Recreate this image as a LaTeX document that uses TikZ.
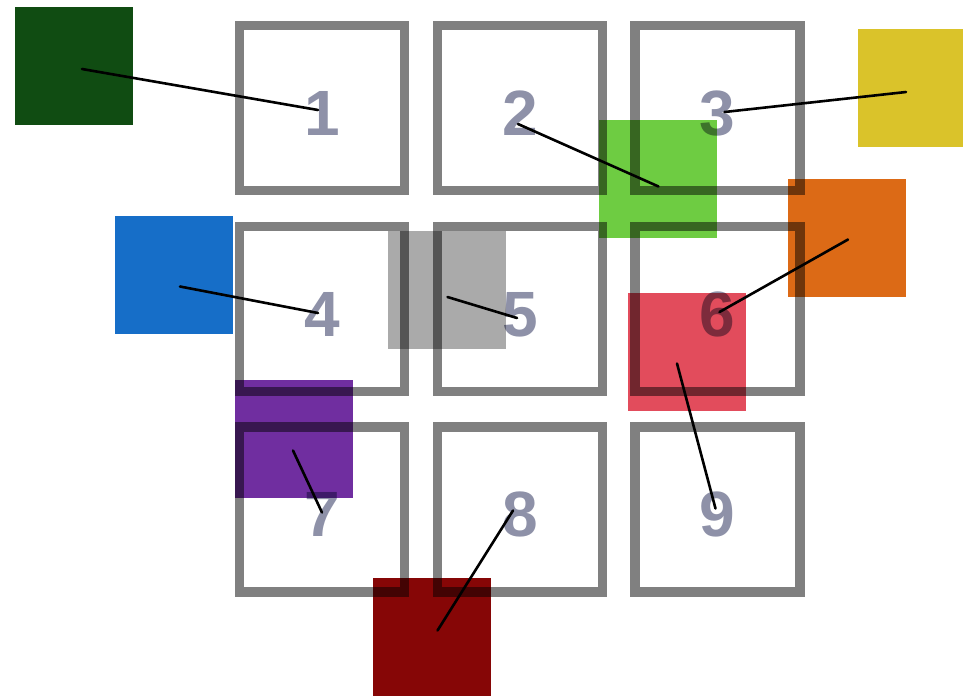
\documentclass[tikz,border=0pt]{standalone}
\usepackage{fontspec}
\setmainfont{Liberation Sans}
\usetikzlibrary{calc}
\definecolor{GridGray}{RGB}{128,128,128}
\definecolor{NumGray}{RGB}{142,145,168}
\definecolor{PatchDarkGreen}{RGB}{16,76,18}
\definecolor{PatchBlue}{RGB}{22,110,200}
\definecolor{PatchYellow}{RGB}{218,195,42}
\definecolor{PatchGreen}{RGB}{110,204,66}
\definecolor{PatchOrange}{RGB}{220,106,22}
\definecolor{PatchGray}{RGB}{170,170,170}
\definecolor{PatchRed}{RGB}{226,76,92}
\definecolor{PatchPurple}{RGB}{112,46,160}
\definecolor{PatchDarkRed}{RGB}{134,6,6}
\tikzset{
  grid/cell/.style={
    draw=GridGray,
    line width=9.5pt,
    minimum size=165pt,
    inner sep=0pt,
    text=NumGray,
    text height=54pt,
    text depth=0pt,
    font=\fontsize{64}{64}\selectfont\bfseries
  },
  grid/patch/.style={
    minimum size=118pt,
    inner sep=0pt,
    blend mode=multiply
  },
  grid/link/.style={line width=2.6pt, draw=black, line cap=round}
}

\begin{document}
\begin{tikzpicture}[x=1pt,y=-1pt]
  \useasboundingbox (0,0) rectangle (963,697);
  % the nine numbered cells
  \foreach \i/\x/\y in {
    1/322/108,2/520/108,3/717.5/108,
    4/322/309,5/520/309,6/717.5/309,
    7/322/509.5,8/520/509.5,9/717.5/509.5}
  {\node[grid/cell] (c\i) at (\x,\y) {\i};}
  % coloured patches
  \begin{scope}
    \clip (0,0) rectangle (963,697);
    \foreach \nm/\x/\y/\clr in {
      dkgreen/74/66/PatchDarkGreen,blue/174/274.5/PatchBlue,
      yellow/917/88/PatchYellow,green/657.5/178.5/PatchGreen,
      orange/847/237.5/PatchOrange,gray/446.5/290/PatchGray,
      red/687/351.5/PatchRed,purple/294/438.5/PatchPurple,
      dkred/431.5/636.5/PatchDarkRed}
    {\node[grid/patch,fill=\clr] (\nm) at (\x,\y) {};}
  \end{scope}
  % links from patch to cell
  \foreach \nm/\dx/\dy/\i/\ex/\ey in {
    dkgreen/8/3/1/-4/2,green/1/8/2/-2/16,yellow/-11/4/3/7/4,
    blue/6/12/4/-4/4,gray/1/7/5/-3/9,orange/1/2/6/2/3,
    purple/-1/12/7/0/3,dkred/6/-6/8/-7/1,red/-10/12/9/-2/-1}
  {\draw[grid/link] ($(\nm)+(\dx,\dy)$) -- ($(c\i.center)+(\ex,\ey)$);}
\end{tikzpicture}
\end{document}
